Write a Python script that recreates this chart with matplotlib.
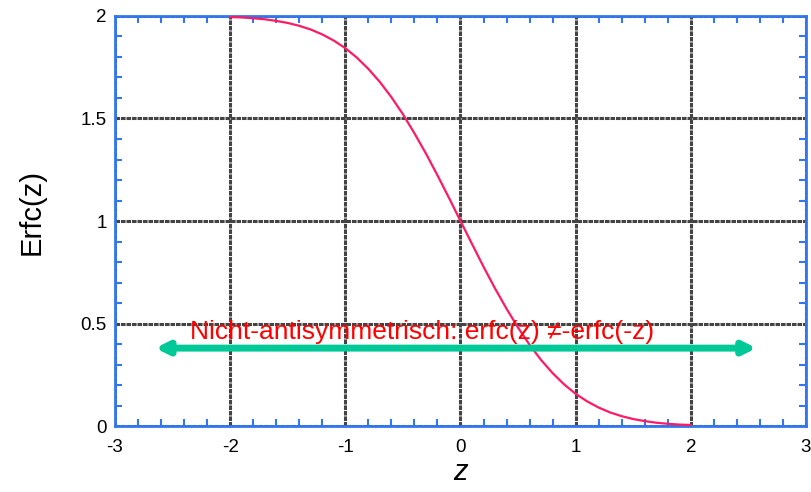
import matplotlib.pyplot as plt
from matplotlib.ticker import MultipleLocator

# values (step 0.1)
z = [-2.0, -1.9, -1.8, -1.7, -1.6, -1.5, -1.4, -1.3, -1.2, -1.1,
     -1.0, -0.9, -0.8, -0.7, -0.6, -0.5, -0.4, -0.3, -0.2, -0.1,
     0.0, 0.1, 0.2, 0.3, 0.4, 0.5, 0.6, 0.7, 0.8, 0.9,
     1.0, 1.1, 1.2, 1.3, 1.4, 1.5, 1.6, 1.7, 1.8, 1.9, 2.0]
erfc_z = [1.995, 1.993, 1.989, 1.984, 1.976, 1.966, 1.952, 1.934, 1.910, 1.880,
          1.843, 1.797, 1.742, 1.678, 1.604, 1.521, 1.428, 1.329, 1.223, 1.113,
          1.000, 0.888, 0.777, 0.671, 0.572, 0.480, 0.396, 0.322, 0.258, 0.203,
          0.157, 0.120, 0.090, 0.066, 0.048, 0.034, 0.024, 0.016, 0.011, 0.007, 0.005]

xticks = [-3, -2, -1, 0, 1, 2, 3]
yticks = [0, 0.5, 1, 1.5, 2]
ytick_labels = ["0", "0.5", "1", "1.5", "2"]

arrow_x = [-2.65, 2.57]
arrow_y = 0.38
note = "Nicht-antisymmetrisch: erfc(z) \u2260-erfc(-z)"

blue = "#3377ee"
plt.rcParams["font.family"] = ["Liberation Sans", "DejaVu Sans"]

fig = plt.figure(figsize=(8.11, 4.92), dpi=100)
ax = fig.add_axes([0.1418, 0.1341, 0.852, 0.8334])

ax.plot(z, erfc_z, color="#ff1a66", lw=1.6, zorder=3)

ax.annotate("", xy=(arrow_x[0], arrow_y), xytext=(arrow_x[1], arrow_y),
            arrowprops=dict(arrowstyle="<|-|>", color="#00c896", lw=5,
                            mutation_scale=18, shrinkA=0, shrinkB=0), zorder=4)
ax.text(-0.33, 0.46, note, color="red", fontsize=19, ha="center", va="center", zorder=5)

ax.set_xlim(-3, 3)
ax.set_ylim(0, 2)
ax.set_xticks(xticks)
ax.set_xticklabels([str(t) for t in xticks])
ax.set_yticks(yticks)
ax.set_yticklabels(ytick_labels)
ax.xaxis.set_minor_locator(MultipleLocator(0.2))
ax.yaxis.set_minor_locator(MultipleLocator(0.1))

ax.grid(True, which="major", color="#444444", lw=2.2, ls=(0, (1.5, 0.3)))
ax.tick_params(which="both", direction="in", top=True, right=True, color=blue,
               width=1.5, labelsize=13.5)
ax.tick_params(axis="x", pad=9)
ax.tick_params(axis="y", pad=6)
ax.tick_params(which="major", length=0)
ax.tick_params(which="minor", length=5)
for s in ax.spines.values():
    s.set_color(blue)
    s.set_linewidth(2)

ax.set_ylabel("Erfc(z)", fontsize=21)
ax.yaxis.set_label_coords(-0.101, 0.522)
ax.set_xlabel("z", fontsize=21, style="italic", labelpad=2)

fig.savefig("out.png", dpi=100)
